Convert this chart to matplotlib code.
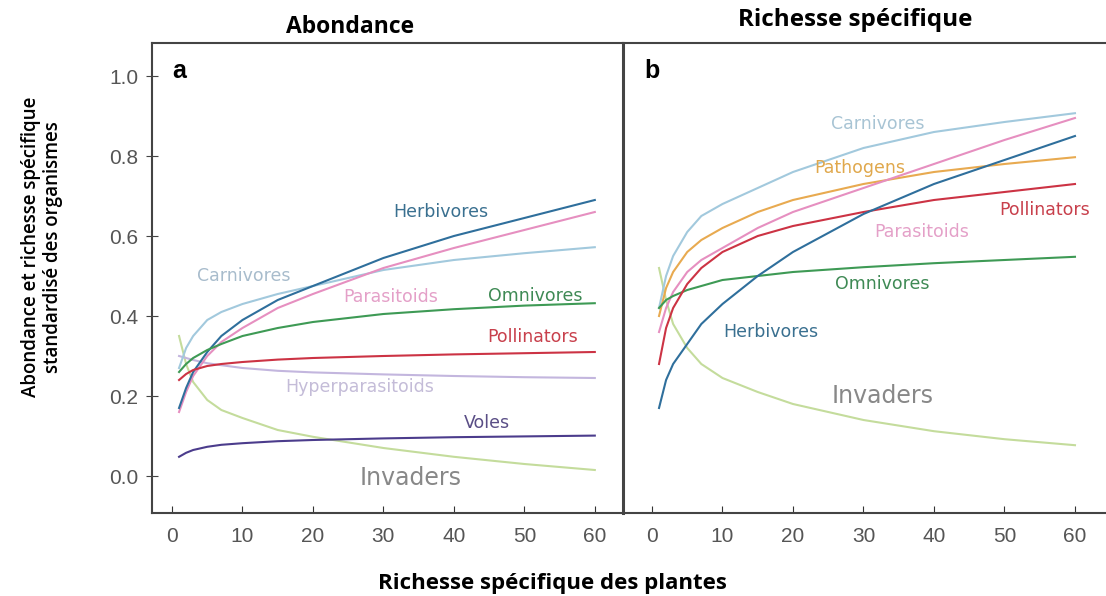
import numpy as np
import matplotlib
matplotlib.use('Agg')
import matplotlib.pyplot as plt

# plant species richness (x values)
x = [1, 2, 3, 5, 7, 10, 15, 20, 30, 40, 50, 60]

# panel a : abundance
herb_a  = [0.17, 0.22, 0.26, 0.31, 0.35, 0.39, 0.44, 0.475, 0.545, 0.60, 0.645, 0.69]
para_a  = [0.16, 0.21, 0.25, 0.30, 0.335, 0.37, 0.42, 0.455, 0.52, 0.57, 0.615, 0.66]
carn_a  = [0.27, 0.32, 0.35, 0.39, 0.41, 0.43, 0.455, 0.475, 0.515, 0.54, 0.557, 0.572]
omni_a  = [0.26, 0.28, 0.295, 0.315, 0.33, 0.35, 0.37, 0.385, 0.405, 0.417, 0.426, 0.432]
poll_a  = [0.24, 0.255, 0.265, 0.275, 0.28, 0.285, 0.291, 0.295, 0.30, 0.304, 0.307, 0.31]
hyper_a = [0.30, 0.295, 0.29, 0.282, 0.277, 0.27, 0.263, 0.259, 0.254, 0.25, 0.247, 0.245]
voles_a = [0.048, 0.058, 0.065, 0.073, 0.078, 0.082, 0.087, 0.09, 0.094, 0.097, 0.099, 0.101]
inv_a   = [0.35, 0.28, 0.235, 0.19, 0.165, 0.145, 0.115, 0.098, 0.07, 0.048, 0.03, 0.015]

# panel b : species richness
carn_b = [0.42, 0.50, 0.55, 0.61, 0.65, 0.68, 0.72, 0.76, 0.82, 0.86, 0.885, 0.907]
path_b = [0.40, 0.47, 0.51, 0.56, 0.59, 0.62, 0.66, 0.69, 0.73, 0.76, 0.78, 0.797]
para_b = [0.36, 0.42, 0.46, 0.51, 0.54, 0.57, 0.62, 0.66, 0.72, 0.78, 0.84, 0.895]
poll_b = [0.28, 0.37, 0.42, 0.48, 0.52, 0.56, 0.60, 0.625, 0.66, 0.69, 0.71, 0.73]
omni_b = [0.42, 0.44, 0.45, 0.465, 0.475, 0.49, 0.50, 0.51, 0.522, 0.532, 0.54, 0.548]
herb_b = [0.17, 0.24, 0.28, 0.33, 0.38, 0.43, 0.50, 0.56, 0.655, 0.73, 0.79, 0.85]
inv_b  = [0.52, 0.44, 0.38, 0.32, 0.28, 0.245, 0.21, 0.18, 0.14, 0.112, 0.092, 0.077]

xticks = [0, 10, 20, 30, 40, 50, 60]
yticks = [0.0, 0.2, 0.4, 0.6, 0.8, 1.0]

c_herb = '#2f6f9c'
c_para = '#e68fc0'
c_carn = '#a2c9dd'
c_omni = '#3e9a55'
c_poll = '#cc3344'
c_hyper = '#c3b6de'
c_voles = '#4b3c8c'
c_inv = '#c4dc9c'
c_path = '#e8aa50'

lab = ['DejaVu Sans']
tick = ['Liberation Sans', 'DejaVu Sans']
bold = ['Open Sans', 'DejaVu Sans']

fig = plt.figure(figsize=(11.06, 5.96), dpi=100)
ax1 = fig.add_axes([152/1106, 83/596, 471/1106, 470/596])
ax2 = fig.add_axes([623/1106, 83/596, 483/1106, 470/596])

lw = 1.5
ax1.plot(x, inv_a, color=c_inv, lw=lw)
ax1.plot(x, hyper_a, color=c_hyper, lw=lw)
ax1.plot(x, carn_a, color=c_carn, lw=lw)
ax1.plot(x, para_a, color=c_para, lw=lw)
ax1.plot(x, herb_a, color=c_herb, lw=lw)
ax1.plot(x, omni_a, color=c_omni, lw=lw)
ax1.plot(x, poll_a, color=c_poll, lw=lw)
ax1.plot(x, voles_a, color=c_voles, lw=lw)

ax2.plot(x, inv_b, color=c_inv, lw=lw)
ax2.plot(x, carn_b, color=c_carn, lw=lw)
ax2.plot(x, path_b, color=c_path, lw=lw)
ax2.plot(x, para_b, color=c_para, lw=lw)
ax2.plot(x, omni_b, color=c_omni, lw=lw)
ax2.plot(x, poll_b, color=c_poll, lw=lw)
ax2.plot(x, herb_b, color=c_herb, lw=lw)

fs = 12.5
ax1.text(38.2, 0.66, 'Herbivores', color='#3a7090', fontsize=fs, ha='center', va='center', family=lab)
ax1.text(10.2, 0.50, 'Carnivores', color='#a8bccc', fontsize=fs, ha='center', va='center', family=lab)
ax1.text(31, 0.447, 'Parasitoids', color='#e4a0c8', fontsize=fs, ha='center', va='center', family=lab)
ax1.text(51.5, 0.45, 'Omnivores', color='#3f8a55', fontsize=fs, ha='center', va='center', family=lab)
ax1.text(51.2, 0.348, 'Pollinators', color='#c8404c', fontsize=fs, ha='center', va='center', family=lab)
ax1.text(26.7, 0.222, 'Hyperparasitoids', color='#c4bcd8', fontsize=fs, ha='center', va='center', family=lab)
ax1.text(44.7, 0.133, 'Voles', color='#5a4e86', fontsize=fs, ha='center', va='center', family=lab)
ax1.text(33.9, -0.005, 'Invaders', color='#888888', fontsize=17, ha='center', va='center', family=lab)

ax2.text(32, 0.88, 'Carnivores', color='#a8c4d4', fontsize=fs, ha='center', va='center', family=lab)
ax2.text(29.5, 0.77, 'Pathogens', color='#e0a84c', fontsize=fs, ha='center', va='center', family=lab)
ax2.text(55.7, 0.665, 'Pollinators', color='#c8404c', fontsize=fs, ha='center', va='center', family=lab)
ax2.text(38.2, 0.61, 'Parasitoids', color='#e4a0c8', fontsize=fs, ha='center', va='center', family=lab)
ax2.text(32.7, 0.48, 'Omnivores', color='#3f8a55', fontsize=fs, ha='center', va='center', family=lab)
ax2.text(16.8, 0.36, 'Herbivores', color='#3a7090', fontsize=fs, ha='center', va='center', family=lab)
ax2.text(32.7, 0.20, 'Invaders', color='#888888', fontsize=17, ha='center', va='center', family=lab)

ax1.text(0.042, 0.94, 'a', transform=ax1.transAxes, fontsize=18, fontweight='bold', va='center', family=tick)
ax2.text(0.045, 0.94, 'b', transform=ax2.transAxes, fontsize=18, fontweight='bold', va='center', family=tick)

for ax in (ax1, ax2):
    ax.set_ylim(-0.0925, 1.0825)
    ax.set_xticks(xticks)
    ax.set_yticks(yticks)
    ax.tick_params(axis='x', direction='in', length=5, colors='#333333', labelcolor='#555555',
                   labelsize=15, pad=10)
    for s in ax.spines.values():
        s.set_color('#444444')
        s.set_linewidth(1.5)
    for t in ax.get_xticklabels():
        t.set_family(tick)

ax1.set_xlim(-2.84, 64.0)
ax2.set_xlim(-4.11, 64.4)
ax1.set_yticklabels(['%.1f' % v for v in yticks])
ax1.tick_params(axis='y', direction='inout', length=8, colors='#444444', labelcolor='#555555',
                labelsize=15, pad=6)
for t in ax1.get_yticklabels():
    t.set_family(tick)
ax2.tick_params(axis='y', left=False, labelleft=False)
ax2.spines['right'].set_visible(False)
ax2.spines['left'].set_linewidth(2.2)
ax1.spines['right'].set_visible(False)

fig.text(350/1106, 1 - 27/596, 'Abondance', fontsize=16.5, fontweight='bold', ha='center', va='center', family=bold)
fig.text(855/1106, 1 - 20/596, 'Richesse spécifique', fontsize=17.5, fontweight='bold', ha='center', va='center', family=bold)
fig.text(552/1106, 1 - 583/596, 'Richesse spécifique des plantes', fontsize=16, fontweight='bold',
         ha='center', va='center', family=bold)
fig.text(42/1106, 1 - 247/596, 'Abondance et richesse spécifique\nstandardisé des organismes', fontsize=13.5,
         rotation=90, ha='center', va='center', family=['Open Sans', 'DejaVu Sans'],
         fontweight='semibold', linespacing=1.15)

plt.savefig('out.png', dpi=100)
